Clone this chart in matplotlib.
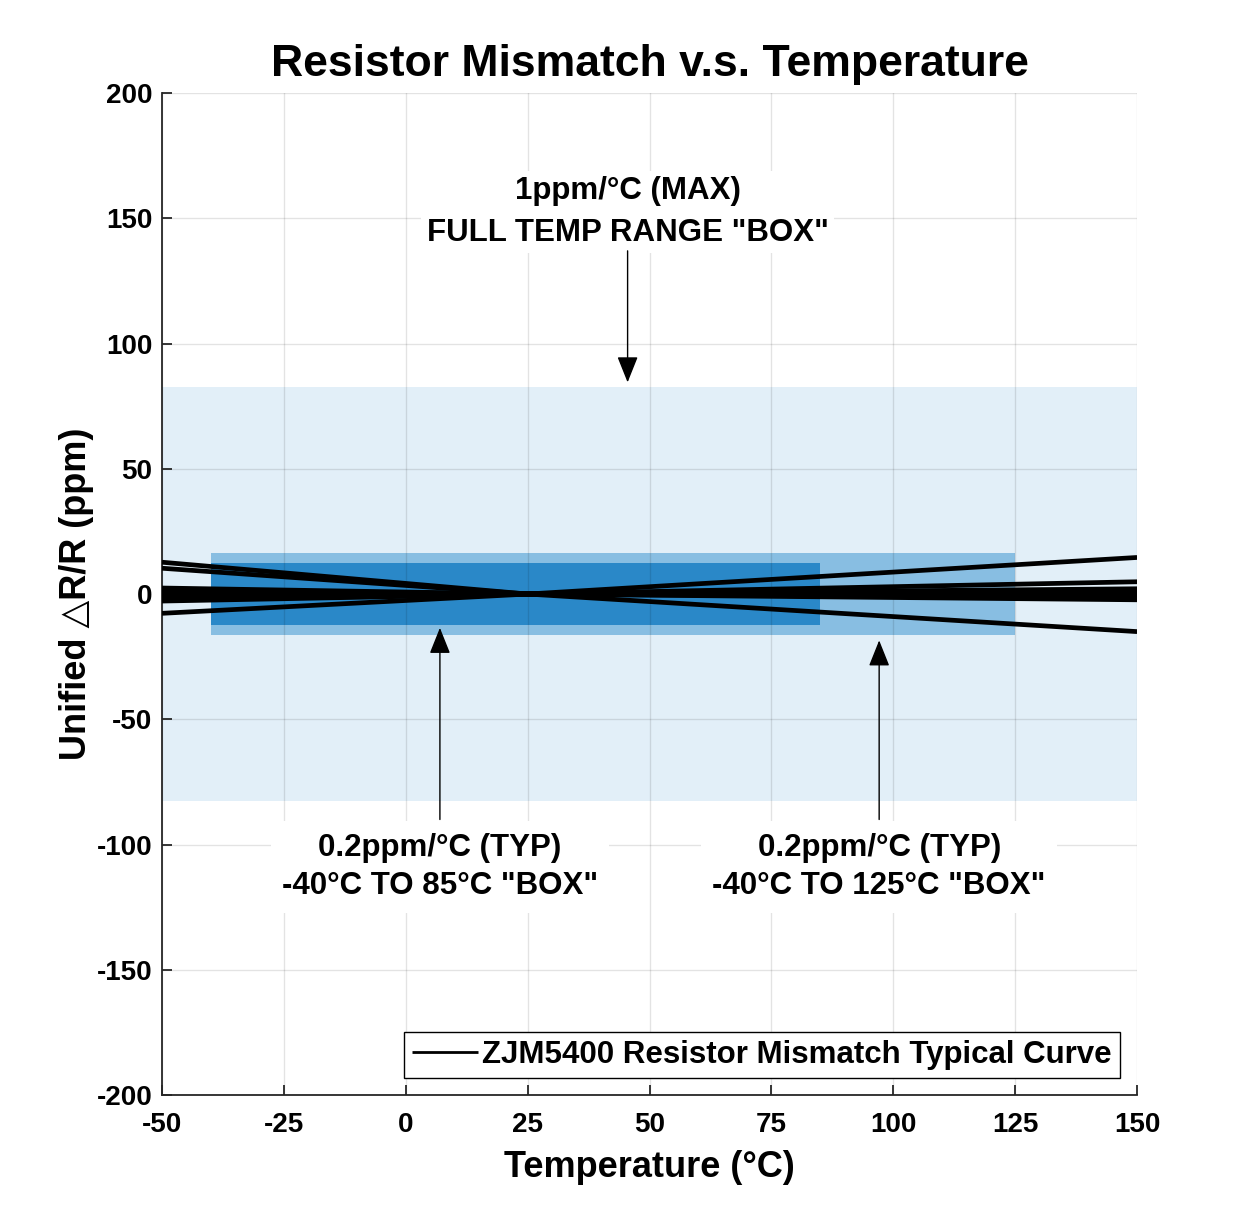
#!/usr/bin/env python3
"""Resistor mismatch vs temperature, with the TCR "box" limits drawn behind the curves."""

import numpy as np
import matplotlib
matplotlib.use("Agg")
import matplotlib.pyplot as plt

# temperatures where each curve was sampled (deg C)
temps = [-50, 25, 150]

# mismatch curves (ppm) at those temperatures, all referenced to 25 C
curve_values = [
    [-7.7, 0.0, 14.6],
    [12.7, 0.0, -15.0],
    [10.3, 0.0, 4.9],
    [2.4, 0.0, -2.3],
    [1.6, 0.0, 1.2],
    [0.8, 0.0, 2.1],
    [0.0, 0.0, -1.5],
    [-0.8, 0.0, 0.4],
    [-1.6, 0.0, -0.6],
    [-2.2, 0.0, 1.6],
    [-2.8, 0.0, -0.2],
]

# boxes: (t_min, t_max, half height in ppm)
box_full = (-50, 150, 82.5)     # 1ppm/C over -40..125
box_125 = (-40, 125, 16.5)      # 0.2ppm/C over -40..125
box_85 = (-40, 85, 12.5)        # 0.2ppm/C over -40..85
box_colors = ["#E2EFF8", "#88BEE2", "#2A88C8"]

x_ticks = [-50, -25, 0, 25, 50, 75, 100, 125, 150]
y_ticks = [-200, -150, -100, -50, 0, 50, 100, 150, 200]

FONT = ["Liberation Sans", "DejaVu Sans"]
plt.rcParams["font.family"] = FONT
plt.rcParams["font.weight"] = "bold"
plt.rcParams["axes.unicode_minus"] = False

fig = plt.figure(figsize=(12.56, 12.29), dpi=100)
ax = fig.add_axes([0.129, 0.109, 0.7763, 0.8153])

for (t0, t1, h), color in zip([box_full, box_125, box_85], box_colors):
    ax.fill_between([t0, t1], [-h, -h], [h, h], color=color, lw=0, zorder=1)

for i, vals in enumerate(curve_values):
    ax.plot(temps, vals, color="black", lw=3.4, solid_capstyle="butt", zorder=3,
            label="ZJM5400 Resistor Mismatch Typical Curve" if i == 0 else None)

ax.set_xlim(-50, 150)
ax.set_ylim(-200, 200)
ax.set_xticks(x_ticks)
ax.set_yticks(y_ticks)
ax.grid(True, color="black", alpha=0.11, lw=1)
ax.tick_params(direction="in", length=7, width=1.3, color="#262626", labelsize=20)
ax.tick_params(axis="x", pad=12)
ax.tick_params(axis="y", pad=7)
for lab in ax.get_xticklabels() + ax.get_yticklabels():
    lab.set_fontweight("bold")
for side in ["top", "right"]:
    ax.spines[side].set_visible(False)
for side in ["left", "bottom"]:
    ax.spines[side].set_color("#262626")
    ax.spines[side].set_linewidth(1.3)

ax.set_title("Resistor Mismatch v.s. Temperature", fontsize=32, fontweight="bold", pad=12)
ax.set_xlabel("Temperature (°C)", fontsize=26, fontweight="bold", labelpad=9)
ax.set_ylabel("Unified △R/R (ppm)", fontsize=26, fontweight="bold", labelpad=2)

arrow = dict(arrowstyle="-|>,head_length=0.6,head_width=0.24", color="black", lw=1,
             mutation_scale=27, shrinkA=0, shrinkB=0)
box_bg = dict(facecolor="white", edgecolor="none", pad=4)

ax.text(45.5, 152.5, "1ppm/°C (MAX)\nFULL TEMP RANGE \"BOX\"", ha="center", va="center",
        fontsize=22.5, fontweight="bold", linespacing=1.5, bbox=box_bg, zorder=4)
ax.annotate("", xy=(45.5, 84.5), xytext=(45.5, 137), arrowprops=arrow, zorder=4)

ax.text(7, -109, "0.2ppm/°C (TYP)\n-40°C TO 85°C \"BOX\"", ha="center", va="center",
        fontsize=22.5, fontweight="bold", linespacing=1.38,
        bbox=dict(facecolor="white", edgecolor="none", pad=8), zorder=4)
ax.annotate("", xy=(7, -13.5), xytext=(7, -90), arrowprops=arrow, zorder=4)

ax.text(97.1, -109, "0.2ppm/°C (TYP)\n-40°C TO 125°C \"BOX\"", ha="center", va="center",
        fontsize=22.5, fontweight="bold", linespacing=1.38,
        bbox=dict(facecolor="white", edgecolor="none", pad=8), zorder=4)
ax.annotate("", xy=(97.1, -18.5), xytext=(97.1, -90), arrowprops=arrow, zorder=4)

leg = ax.legend(loc="lower right", fontsize=22.5, frameon=True, fancybox=False,
                edgecolor="black", framealpha=1, handlelength=2.1, handletextpad=0.15,
                borderpad=0.25, borderaxespad=0.55)
leg.get_frame().set_linewidth(1)
for t in leg.get_texts():
    t.set_fontweight("bold")
for h in leg.get_lines():
    h.set_linewidth(2)

fig.savefig("out.png", dpi=100)
